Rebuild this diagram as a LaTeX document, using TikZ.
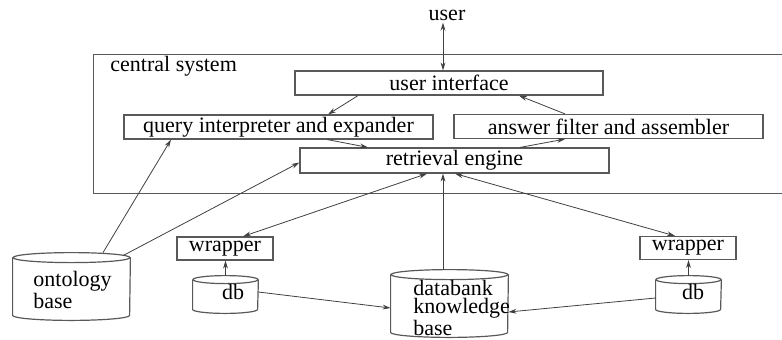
\documentclass[tikz,border=0pt]{standalone}
\usepackage{fontspec}
\setmainfont{Liberation Serif}
\usetikzlibrary{arrows.meta, positioning}

\tikzset{
  module/.style={draw=black!65, line width=0.6pt, inner sep=0pt, minimum height=12pt},
  store/.style={rectangle, inner sep=0pt},
  drumline/.style={draw=black!65, line width=0.6pt},
  label/.style={inner sep=0pt, align=left, font=\fontsize{11}{8.5}\selectfont},
  link/.style={draw=black!75, line width=0.4pt, -{Stealth[length=4pt,width=2.4pt]}},
  twoway/.style={link, {Stealth[length=4pt,width=2.4pt]}-{Stealth[length=4pt,width=2.4pt]}}
}

% cylinder outline round a store node: name, half width, end radius
\newcommand{\drum}[3]{%
  \draw[drumline] ([yshift=-#3]#1.north) ellipse [x radius=#2, y radius=#3];
  \draw[drumline] ([yshift=-#3]#1.north west) -- ([yshift=#3]#1.south west)
    arc [start angle=180, end angle=360, x radius=#2, y radius=#3]
    -- ([yshift=-#3]#1.north east);
}

\begin{document}
\begin{tikzpicture}[x=0.5pt, y=-0.5pt, font=\fontsize{11}{12}\selectfont]
  \clip (0,0) rectangle (782,339);

  % central system frame
  \node[module, anchor=north west, minimum width=353.5pt, minimum height=69.5pt] (sys) at (93,54) {};
  \node[label, anchor=base west] (systxt) at (110,71) {central system};

  % modules inside
  \node[module, minimum width=154pt] (ui) at (449,83) {user interface};
  \node[module, minimum width=154.5pt] (qie) at (278.5,127) {query interpreter and expander};
  \node[module, minimum width=154.5pt] (afa) at (608.5,126.5) {answer filter and assembler};
  \node[module, minimum width=154.5pt, minimum height=12.5pt] (re) at (454.5,160.5) {retrieval engine};

  \node[inner sep=1pt] (user) at (447,15) {user};

  % wrappers and sources
  \node[module, minimum width=48pt, minimum height=11.5pt] (wl) at (225,248.5) {wrapper};
  \node[module, minimum width=48pt, minimum height=11.5pt] (wr) at (688,248) {wrapper};
  \node[store, minimum width=32.5pt, minimum height=18.5pt] (dbl) at (225.5,294.5) {};
  \node[store, minimum width=32.5pt, minimum height=18.5pt] (dbr) at (688.5,294.5) {};
  \drum{dbl}{16.25pt}{2pt}
  \drum{dbr}{16.25pt}{2pt}
  \node[label] (dbltxt) at (233,292) {db};
  \node[label] (dbrtxt) at (693,292) {db};

  \node[store, minimum width=58.5pt, minimum height=33.5pt] (onto) at (71.5,286.5) {};
  \node[store, minimum width=58.5pt, minimum height=33.5pt] (kb) at (449.5,303.5) {};
  \drum{onto}{29.25pt}{2.5pt}
  \drum{kb}{29.25pt}{2.5pt}
  \node[label, anchor=west] (ontotxt) at (33,290) {ontology\\base};
  \node[label, anchor=west, font=\fontsize{11}{9.2}\selectfont] (kbtxt) at (413,308) {databank\\knowledge\\base};

  % connectors
  \draw[twoway] ([xshift=-2pt]user.south) -- ([xshift=-3pt]ui.north);
  \draw[link] ([xshift=-45.5pt]ui.south) -- ([xshift=24.75pt]qie.north);
  \draw[link] ([xshift=24.5pt]qie.south) -- ([xshift=-43.25pt]re.north);
  \draw[link] ([xshift=-21.75pt]afa.north) -- ([xshift=35pt]ui.south);
  \draw[link] ([xshift=32.75pt]re.north) -- ([xshift=-21.75pt]afa.south);

  \draw[link] ([xshift=15.75pt]onto.north) -- ([xshift=-53.75pt]qie.south);
  \draw[link] ([xshift=25.75pt,yshift=-1.5pt]onto.north) -- ([yshift=-1pt]re.west);
  \draw[twoway] ([xshift=-13.75pt]re.south) -- ([xshift=9pt]wl.north);
  \draw[twoway] ([xshift=0.25pt]re.south) -- ([xshift=-6.5pt]wr.north);
  \draw[link] ([xshift=-3.25pt]kb.north) -- ([xshift=-3.25pt]kb.north |- re.south);

  \draw[link] (dbl.north) -- (dbl.north |- wl.south);
  \draw[link] (dbr.north) -- (dbr.north |- wr.south);
  \draw[link] ([yshift=1.25pt]dbl.east) -- ([yshift=-2.25pt]kb.west);
  \draw[link] ([yshift=-1.75pt]dbr.west) -- ([yshift=-4.25pt]kb.east);
\end{tikzpicture}
\end{document}
